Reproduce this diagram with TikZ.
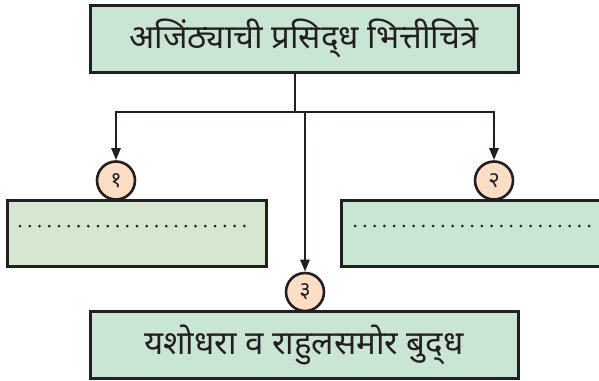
\documentclass[tikz,border=0pt]{standalone}
\usepackage{fontspec}
\newfontfamily\deva[Script=Devanagari]{Noto Sans}
\usetikzlibrary{arrows.meta}
\definecolor{boxgreen}{HTML}{C9E5D4}
\definecolor{boxyellowgreen}{HTML}{D5E8CF}
\definecolor{circpeach}{HTML}{FDDDC4}
\definecolor{inkline}{HTML}{231F20}
\tikzset{
  titlebox/.style={draw=inkline, line width=3pt, fill=boxgreen, minimum width=428pt, minimum height=67pt, inner sep=0pt, font=\deva\fontsize{33}{38}\selectfont, text=inkline},
  blankbox/.style={draw=inkline, line width=3pt, minimum width=259pt, minimum height=66pt, inner sep=0pt},
  numcirc/.style={circle, draw=inkline, line width=2.6pt, fill=circpeach, minimum size=38pt, inner sep=0pt, font=\deva\bfseries\fontsize{22}{24}\selectfont, text=inkline},
  conn/.style={draw=inkline, line width=2.6pt},
  arr/.style={conn, -{Triangle[length=12pt, width=9pt]}},
  dotline/.style={draw=inkline, line width=3pt, line cap=round, dash pattern=on 0pt off 9.75pt}
}
\begin{document}
\begin{tikzpicture}[x=1pt, y=-1pt]
\useasboundingbox (0,0) rectangle (599,380);
% boxes
\node[titlebox] (top) at (304,38.5) {अजिंठ्याची प्रसिद्‌ध भित्तीचित्रे};
\node[blankbox, fill=boxyellowgreen] (lbox) at (136.5,233) {};
\node[blankbox, fill=boxgreen] (rbox) at (470.5,233) {};
\node[titlebox] (bot) at (304,345) {यशोधरा व राहुलसमोर बुद्‌ध};
% circles
\node[numcirc] (c1) at (116,180.5) {१};
\node[numcirc] (c2) at (494,180.5) {२};
\node[numcirc] (c3) at (305,292) {३};
% dotted lines
\coordinate (ldA) at (20,226);
\coordinate (ldB) at (254,226);
\coordinate (rdA) at (355,226);
\coordinate (rdB) at (590,226);
\draw[dotline] (ldA) -- (ldB);
\draw[dotline] (rdA) -- (rdB);
% connectors
\coordinate (j) at (295,112);
\coordinate (jl) at (116,112);
\coordinate (jr) at (494,112);
\coordinate (jm) at (305,112);
\draw[conn] (top.south -| j) -- (j);
\draw[conn, line cap=rect] (jl) -- (jr);
\draw[arr] (jl) -- (c1.north);
\draw[arr] (jr) -- (c2.north);
\draw[arr] (jm) -- (c3.north);
\end{tikzpicture}
\end{document}
